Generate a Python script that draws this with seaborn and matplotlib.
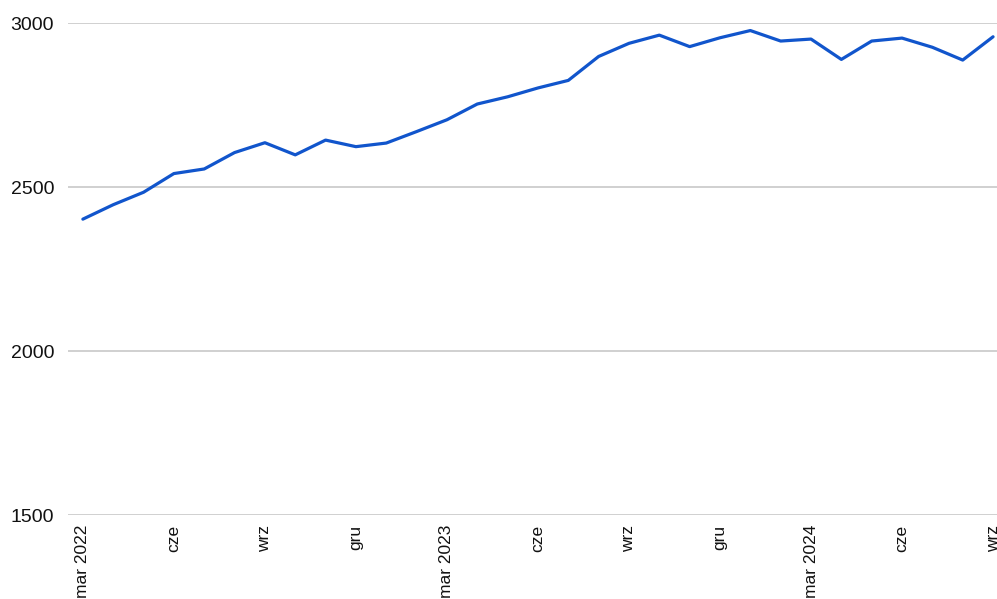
import matplotlib
matplotlib.use("Agg")
import matplotlib.pyplot as plt
import seaborn as sns
import pandas as pd

# Monthly values, March 2022 through September 2024
months = [
    "2022-03", "2022-04", "2022-05", "2022-06", "2022-07", "2022-08", "2022-09",
    "2022-10", "2022-11", "2022-12", "2023-01", "2023-02", "2023-03", "2023-04",
    "2023-05", "2023-06", "2023-07", "2023-08", "2023-09", "2023-10", "2023-11",
    "2023-12", "2024-01", "2024-02", "2024-03", "2024-04", "2024-05", "2024-06",
    "2024-07", "2024-08", "2024-09",
]
values = [
    2402, 2446, 2484, 2541, 2555, 2605, 2635,
    2598, 2643, 2623, 2634, 2669, 2705, 2753,
    2775, 2802, 2825, 2898, 2938, 2963, 2928,
    2955, 2977, 2945, 2951, 2889, 2945, 2954,
    2926, 2887, 2958,
]

# Axis labels every third month (Polish month abbreviations)
tick_months = ["2022-03", "2022-06", "2022-09", "2022-12", "2023-03", "2023-06",
               "2023-09", "2023-12", "2024-03", "2024-06", "2024-09"]
tick_labels = ["mar 2022", "cze", "wrz", "gru", "mar 2023", "cze",
               "wrz", "gru", "mar 2024", "cze", "wrz"]
y_ticks = [1500, 2000, 2500, 3000]

df = pd.DataFrame({"idx": range(len(months)), "month": months, "value": values})

sns.set_theme(style="white")
plt.rcParams["font.family"] = ["Liberation Sans", "DejaVu Sans"]

fig = plt.figure(figsize=(9.97, 5.99), dpi=100)
ax = fig.add_axes([0.0682, 0.1402, 0.9318, 0.8214])

sns.lineplot(data=df, x="idx", y="value", ax=ax, color="#1155cc",
             linewidth=2.3, zorder=3)

ax.set_ylim(1500, 3000)
ax.set_xlim(-0.49, 30.13)
ax.set_yticks(y_ticks)
ax.set_yticklabels([str(v) for v in y_ticks], fontsize=14, color="#111111")
ax.set_xticks([months.index(m) for m in tick_months])
ax.set_xticklabels(tick_labels, rotation=90, fontsize=12.5, color="#111111",
                   va="top", ha="center")
ax.tick_params(axis="y", length=0, pad=10)
ax.tick_params(axis="x", length=0, pad=7)

ax.grid(axis="y", color="#c8c8c8", linewidth=1.2)
ax.grid(axis="x", visible=False)
for s in ax.spines.values():
    s.set_visible(False)
ax.set_xlabel("")
ax.set_ylabel("")

fig.savefig("out.png", dpi=100)
